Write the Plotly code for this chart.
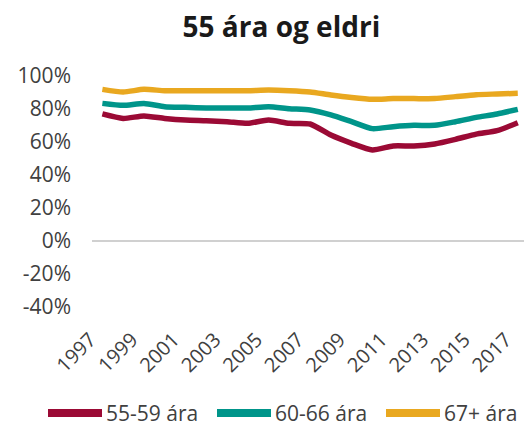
import plotly.graph_objects as go

years = list(range(1997, 2018))
s55_59 = [77.0, 74.3, 75.8, 74.3, 73.3, 72.9, 72.3, 71.3, 73.3, 71.3, 70.9,
          64.2, 59.2, 55.2, 57.6, 57.6, 58.8, 61.6, 64.8, 66.9, 71.7]
s60_66 = [83.4, 82.2, 83.4, 81.4, 81.0, 80.6, 80.6, 80.6, 81.4, 80.2, 79.4,
          76.4, 72.3, 68.1, 69.3, 70.1, 70.1, 72.3, 74.9, 77.0, 79.8]
s67 = [91.9, 90.3, 91.9, 91.1, 91.1, 91.1, 91.1, 91.1, 91.5, 91.1, 90.3,
       88.5, 87.0, 85.9, 86.3, 86.3, 86.3, 87.5, 88.7, 89.1, 89.5]
names = ["55-59 ára", "60-66 ára", "67+ ára"]
colors = ["#9B0A35", "#00958A", "#E9A820"]
tick_years = list(range(1997, 2018, 2))
y_ticks = [-40, -20, 0, 20, 40, 60, 80, 100]
y_labels = ["-40%", "-20%", "0%", "20%", "40%", "60%", "80%", "100%"]

FONT = "Open Sans, Noto Sans, sans-serif"
TXT = "#404040"

fig = go.Figure()
for name, vals, c in zip(names, [s55_59, s60_66, s67], colors):
    fig.add_trace(go.Scatter(x=years, y=vals, name=name, mode="lines", showlegend=False,
                             line=dict(color=c, width=5.5, shape="spline", smoothing=0.6)))

# custom legend (long thick swatches like the reference), in paper units
W, L_, T_, H = 524, 92, 76, 231
def px(xp):
    return (xp - L_) / (W - L_)
def py(yp):
    return (T_ + H - yp) / H
leg_y = 413
starts = [48, 217, 386]
for name, c, x0 in zip(names, colors, starts):
    fig.add_shape(type="line", xref="paper", yref="paper",
                  x0=px(x0), x1=px(x0 + 54), y0=py(leg_y), y1=py(leg_y),
                  line=dict(color=c, width=8))
    fig.add_annotation(xref="paper", yref="paper", x=px(x0 + 56), y=py(leg_y),
                       xanchor="left", yanchor="middle", text=name, showarrow=False,
                       font=dict(size=21, color=TXT, family=FONT))

fig.update_layout(
    width=524, height=426,
    margin=dict(l=92, r=0, t=76, b=119),
    paper_bgcolor="white", plot_bgcolor="white",
    font=dict(family=FONT, color=TXT, size=18),
    title=dict(text="<b>55 ára og eldri</b>", xref="container", x=0.537, xanchor="center",
               yref="container", y=0.936, yanchor="middle",
               font=dict(size=28, color="#1a1a1a", family=FONT)),
    showlegend=False,
    xaxis=dict(range=[1996.5, 2017.3], tickvals=tick_years, ticktext=[str(y) for y in tick_years],
               tickangle=-45, showgrid=False, zeroline=False, showline=False, ticks="",
               ticklabelstandoff=16, ticklabelshift=-12, ticklabeloverflow="allow",
               tickfont=dict(size=20, color=TXT, family=FONT)),
    yaxis=dict(range=[-40, 100], tickvals=y_ticks, ticktext=y_labels,
               showgrid=False, zeroline=True, zerolinecolor="#d0d0d0", zerolinewidth=1.5,
               showline=False, ticks="", ticklabelstandoff=20,
               tickfont=dict(size=21, color=TXT, family=FONT)),
)

fig.write_html("out.html", config={"displayModeBar": False},
               post_script="document.body.style.margin='0';")
